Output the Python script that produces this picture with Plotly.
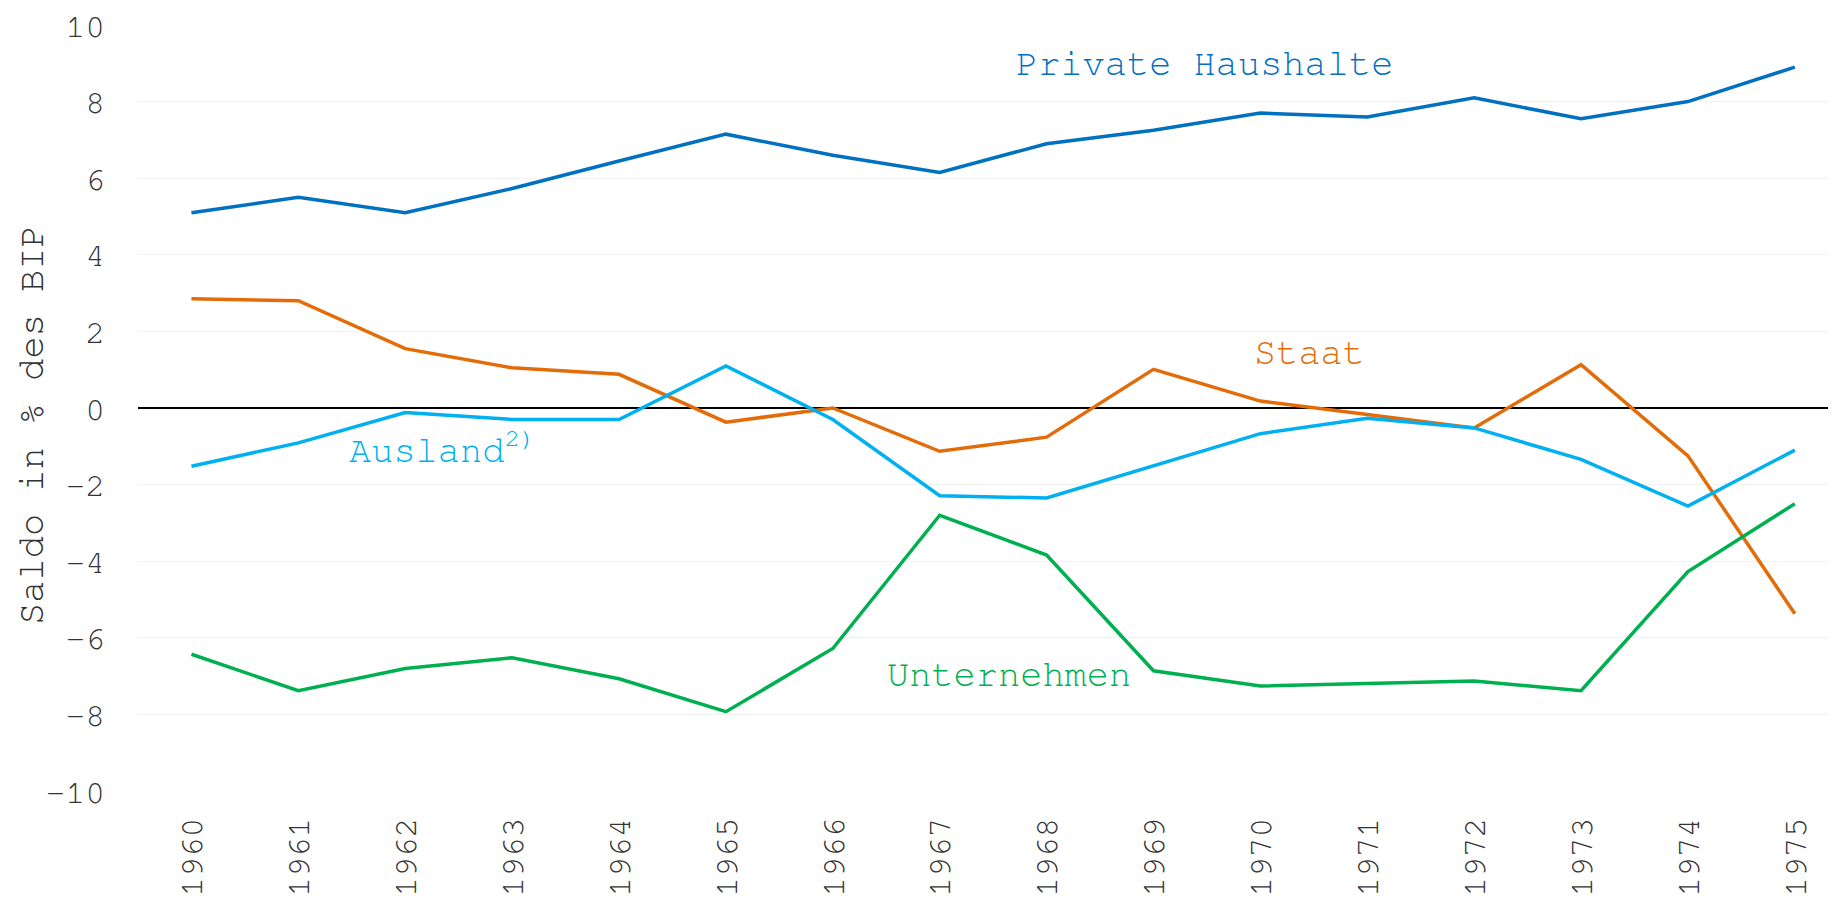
import plotly.graph_objects as go

years = [str(y) for y in range(1960, 1976)]
private_haushalte = [5.1, 5.5, 5.1, 5.73, 6.45, 7.15, 6.6, 6.15, 6.9, 7.25, 7.7, 7.6, 8.1, 7.55, 8.0, 8.9]
staat = [2.85, 2.8, 1.55, 1.05, 0.88, -0.37, 0.0, -1.13, -0.76, 1.01, 0.18, -0.18, -0.52, 1.13, -1.25, -5.37]
ausland = [-1.52, -0.91, -0.12, -0.3, -0.3, 1.1, -0.3, -2.29, -2.35, -1.52, -0.67, -0.27, -0.52, -1.34, -2.56, -1.1]
unternehmen = [-6.43, -7.38, -6.8, -6.52, -7.07, -7.93, -6.28, -2.8, -3.84, -6.86, -7.26, -7.2, -7.13, -7.38, -4.27, -2.5]

FONT = "Nimbus Mono PS, FreeMono, Courier, Courier New, Liberation Mono, monospace"
series = [
    ("Private Haushalte", private_haushalte, "#0070C0"),
    ("Staat", staat, "#E36C09"),
    ("Ausland", ausland, "#00B0F0"),
    ("Unternehmen", unternehmen, "#00B050"),
]

fig = go.Figure()
for name, vals, col in series:
    fig.add_trace(go.Scatter(x=list(range(len(years))), y=vals, mode="lines", name=name,
                             line=dict(color=col, width=3.5)))

ann = [
    ("Private Haushalte", 9.48, 9.0, "#0070C0"),
    ("Staat", 10.46, 1.45, "#E36C09"),
    ("Ausland<sup>2)</sup>", 2.34, -1.02, "#00B0F0"),
    ("Unternehmen", 7.65, -6.96, "#00B050"),
]
for t, x, y, c in ann:
    fig.add_annotation(x=x, y=y, text=t, showarrow=False, font=dict(family=FONT, size=37, color=c))

# y-axis title (placed as rotated text)
fig.add_annotation(xref="paper", yref="paper", x=-0.0621, y=0.478, xanchor="center", yanchor="middle",
                   text="Saldo in % des BIP", textangle=-90, showarrow=False,
                   font=dict(family=FONT, size=37, color="#333333"))

fig.update_layout(
    width=1836, height=901,
    margin=dict(l=130, r=0, t=17, b=118),
    plot_bgcolor="white", paper_bgcolor="white",
    showlegend=False,
    font=dict(family=FONT, color="#333333"),
)
fig.update_xaxes(range=[-0.5, 15.46], tickmode="array", tickvals=list(range(len(years))), ticktext=years,
                 tickangle=-90, tickfont=dict(size=33, family=FONT, color="#333333"),
                 ticklabelstandoff=19, automargin=False,
                 showgrid=False, zeroline=False, showline=False)
fig.update_yaxes(range=[-10, 10], dtick=2, tickfont=dict(size=33, family=FONT, color="#333333"),
                 ticklabelstandoff=32, automargin=False,
                 showgrid=True, gridcolor="#f2f2f2", gridwidth=1,
                 zeroline=True, zerolinecolor="black", zerolinewidth=2)
fig.write_html("out.html")
